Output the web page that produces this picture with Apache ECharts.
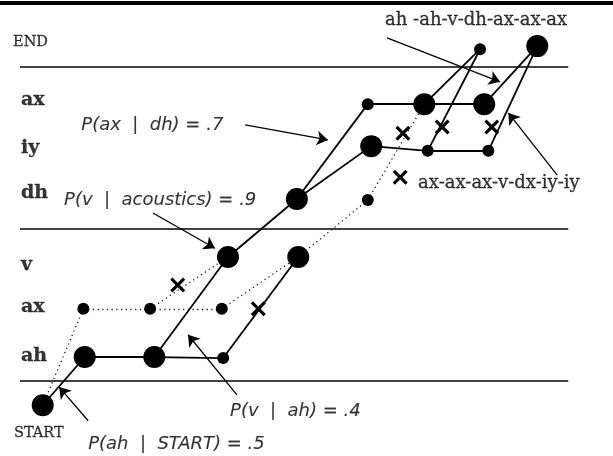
<!DOCTYPE html>
<html><head><meta charset="utf-8">
<script src="https://cdn.jsdelivr.net/npm/echarts@6/dist/echarts.min.js"></script>
<style>html,body{margin:0;padding:0;background:#fff}#c{width:613px;height:456px}</style>
</head><body><div id="c"></div>
<script>
// ---- data (x = time frame units, y = state row units) ----
const rowNames  = ['ax', 'iy', 'dh', 'v', 'ax', 'ah'];
const rowLabelY = [5.97, 5.04, 4.18, 2.79, 1.98, 1.03];

const nodeIds  = ['S','ah1','ah2','ah3','ax1','ax2','ax3','v1','v2','dh1','dh2','iy1','iy2','iy3','tx1','tx2','tx3','E1','E2'];
const nodeX    = [0.37, 0.98, 1.99, 2.99, 0.96, 1.93, 2.97, 3.06, 4.08, 4.06, 5.09, 5.14, 5.96, 6.84, 5.09, 5.91, 6.78, 6.72, 7.55];
const nodeY    = [0.08, 1.01, 1.01, 0.99, 1.94, 1.94, 1.94, 2.94, 2.94, 4.06, 4.04, 5.08, 4.99, 4.99, 5.89, 5.89, 5.89, 6.95, 7.01];
const nodeBig  = [1, 1, 1, 0, 0, 0, 0, 1, 1, 1, 0, 1, 0, 0, 0, 1, 1, 0, 1];

const solidEdges = [['S','ah1'],['ah1','ah2'],['ah2','ah3'],['ah2','v1'],['ah3','v2'],['v1','dh1'],
  ['dh1','tx1'],['dh1','iy1'],['tx1','tx2'],['tx2','tx3'],['iy1','iy2'],['iy2','iy3'],
  ['tx2','E1'],['iy2','E1'],['tx3','E2'],['iy3','E2']];
const dottedEdges = [['S','ax1'],['ax1','ax2'],['ax2','v1'],['ax2','ax3'],['ax3','v2'],['v2','dh2'],['dh2','tx2']];

const crossX = [2.33, 3.50, 5.60, 6.17, 6.89, 5.56];
const crossY = [2.40, 1.94, 5.33, 5.45, 5.45, 4.48];

const ruleY = [6.62, 3.48, 0.55];
const ruleX = [0.04, 8.0];
const topRuleY = 7.84;

const noteTexts = ['P(ax  |  dh) = .7', 'P(v  |  acoustics) = .9', 'P(v  |  ah) = .4', 'P(ah  |  START) = .5'];
const noteX     = [0.93, 0.68, 3.09, 1.03];
const noteY     = [5.49, 4.04, -0.03, -0.67];
const noteArrowFrom = [[3.31, 5.49], [1.97, 3.79], [3.19, 0.28], [1.03, -0.22]];
const noteArrowTo   = [[4.51, 5.20], [2.87, 3.11], [2.48, 1.44], [0.61, 0.43]];

const seqTexts = ['ah -ah-v-dh-ax-ax-ax', 'ax-ax-ax-v-dx-iy-iy'];
const seqX     = [5.34, 5.82];
const seqY     = [7.51, 4.37];
const seqArrowFrom = [[5.37, 7.17], [7.84, 4.52]];
const seqArrowTo   = [[7.01, 6.32], [7.13, 5.72]];

const endLabel = ['END', -0.06, 7.09];
const startLabel = ['START', -0.046, -0.46];

// ---- build ----
const pos = {};
nodeIds.forEach((id, i) => pos[id] = [nodeX[i], nodeY[i]]);
const edgeData = list => list.map(([a, b]) => ({ coords: [pos[a], pos[b]] }));
const crossPath = 'path://M0,1.5L1.5,0L5,3.5L8.5,0L10,1.5L6.5,5L10,8.5L8.5,10L5,6.5L1.5,10L0,8.5L3.5,5Z';

const textSeries = (items, style) => ({
  type: 'scatter', symbolSize: 0, silent: true, z: 5,
  data: items,
  label: Object.assign({ show: true, position: 'right', distance: 0, color: '#000',
    textBorderColor: '#000', textBorderWidth: 0.3,
    formatter: p => p.name }, style)
});

const option = {
  animation: false,
  grid: { left: 0, right: 0, top: 0, bottom: 0 },
  xAxis: { type: 'value', min: -0.25, max: 8.65, show: false },
  yAxis: { type: 'value', min: -0.9, max: 7.9, show: false },
  series: [
    { type: 'lines', coordinateSystem: 'cartesian2d', z: 1, silent: true,
      data: ruleY.map(y => ({ coords: [[ruleX[0], y], [ruleX[1], y]] })),
      lineStyle: { color: '#000', width: 1.7, opacity: 1 } },
    { type: 'lines', coordinateSystem: 'cartesian2d', z: 1, silent: true,
      data: [{ coords: [[-0.25, topRuleY], [8.65, topRuleY]] }],
      lineStyle: { color: '#000', width: 4, opacity: 1 } },
    { type: 'lines', coordinateSystem: 'cartesian2d', z: 2, silent: true,
      data: edgeData(solidEdges), lineStyle: { color: '#000', width: 1.8, opacity: 1 } },
    { type: 'lines', coordinateSystem: 'cartesian2d', z: 2, silent: true,
      data: edgeData(dottedEdges), lineStyle: { color: '#222', width: 1.3, type: [1.3, 3.4], opacity: 1 } },
    { type: 'lines', coordinateSystem: 'cartesian2d', z: 2, silent: true,
      symbol: ['none', 'arrow'], symbolSize: [7, 11],
      data: noteArrowFrom.map((f, i) => ({ coords: [f, noteArrowTo[i]] }))
        .concat(seqArrowFrom.map((f, i) => ({ coords: [f, seqArrowTo[i]] }))),
      lineStyle: { color: '#000', width: 1.3, opacity: 1 } },
    { type: 'scatter', z: 3, silent: true, symbol: 'circle',
      data: nodeIds.map((id, i) => ({ value: [nodeX[i], nodeY[i]], symbolSize: nodeBig[i] ? 22 : 12 })),
      itemStyle: { color: '#000', opacity: 1 } },
    { type: 'scatter', z: 3, silent: true, symbol: crossPath, symbolSize: 15,
      data: crossX.map((x, i) => [x, crossY[i]]),
      itemStyle: { color: '#000', opacity: 1 } },
    textSeries(rowNames.map((n, i) => ({ name: n, value: [0.055, rowLabelY[i]] })),
      { fontFamily: 'DejaVu Serif', fontWeight: 'bold', fontSize: 19 }),
    textSeries([{ name: endLabel[0], value: [endLabel[1], endLabel[2]] },
                { name: startLabel[0], value: [startLabel[1], startLabel[2]] }],
      { fontFamily: 'DejaVu Serif', fontSize: 14.5 }),
    textSeries(noteTexts.map((t, i) => ({ name: t, value: [noteX[i], noteY[i]] })),
      { fontFamily: 'DejaVu Sans', fontStyle: 'italic', fontSize: 18, textBorderWidth: 0.1 }),
    textSeries(seqTexts.map((t, i) => ({ name: t, value: [seqX[i], seqY[i]] })),
      { fontFamily: 'DejaVu Serif', fontSize: 18 })
  ]
};
const chart = echarts.init(document.getElementById('c'), null, { renderer: 'canvas' });
chart.setOption(option);
</script>
</body></html>
